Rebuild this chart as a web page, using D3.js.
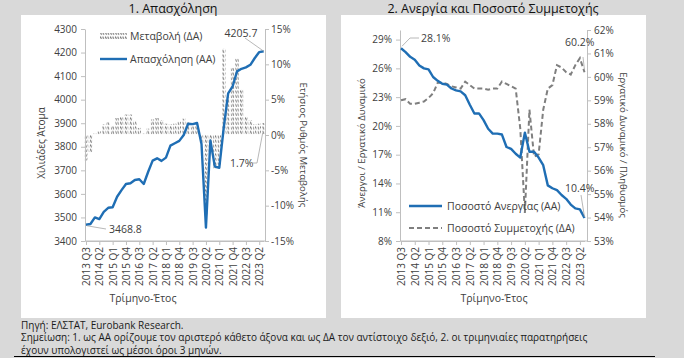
<!DOCTYPE html>
<html><head><meta charset="utf-8">
<script src="https://cdn.jsdelivr.net/npm/d3@7"></script>
<style>
body{margin:0;background:#d9d9d9;}
svg{display:block;font-family:"Open Sans",sans-serif;}
</style></head>
<body><svg id="c" width="684" height="358"></svg>
<script>
const quarters = ["2013 Q3","2013 Q4","2014 Q1","2014 Q2","2014 Q3","2014 Q4","2015 Q1","2015 Q2","2015 Q3","2015 Q4","2016 Q1","2016 Q2","2016 Q3","2016 Q4","2017 Q1","2017 Q2","2017 Q3","2017 Q4","2018 Q1","2018 Q2","2018 Q3","2018 Q4","2019 Q1","2019 Q2","2019 Q3","2019 Q4","2020 Q1","2020 Q2","2020 Q3","2020 Q4","2021 Q1","2021 Q2","2021 Q3","2021 Q4","2022 Q1","2022 Q2","2022 Q3","2022 Q4","2023 Q1","2023 Q2","2023 Q3"];
const xTickLabels = ["2013 Q3","2014 Q2","2015 Q1","2015 Q4","2016 Q3","2017 Q2","2018 Q1","2018 Q4","2019 Q3","2020 Q2","2021 Q1","2021 Q4","2022 Q3","2023 Q2"];
// Chart 1: employment (thousands, left axis) and annual % change (right axis)
const employment = [3468.8,3472,3500,3493,3524,3541,3543,3588,3616,3642,3645,3659,3662,3642,3694,3741,3751,3740,3754,3805,3815,3825,3850,3898,3896,3901,3812,3457,3827,3716,3711,3880,4027,4056,4120,4131,4137,4148,4177,4202,4205.7];
const employmentChange = [-3.6,-2.5,0.2,0.5,1.5,1.8,1.3,2.4,2.6,2.9,2.9,2.0,1.0,0.2,0.9,2.2,2.4,2.1,1.6,1.5,1.6,1.9,2.3,1.8,1.7,1.4,-1.2,-11.4,-2.7,-4.7,-4.2,12.2,5.3,9.5,10.8,6.5,2.6,2.1,1.5,1.6,1.7];
const empLeftTicks = [3400,3500,3600,3700,3800,3900,4000,4100,4200,4300];
const empRightTicks = [-15,-10,-5,0,5,10,15];
// Chart 2: unemployment rate (left axis) and participation rate (right axis)
const unemployment = [28.1,27.7,27.2,26.9,26.3,26.0,25.9,25.1,24.7,24.4,24.3,23.9,23.7,23.6,23.2,22.2,21.3,21.3,20.6,19.7,19.2,19.2,19.1,17.8,17.6,17.1,16.7,19.3,17.3,17.3,16.7,15.9,13.8,13.5,13.3,12.8,12.4,11.8,11.4,11.3,10.4];
const participation = [59.0,59.05,58.85,58.85,58.9,58.95,59.1,59.3,59.75,59.75,59.7,59.6,59.55,59.5,59.8,59.65,59.5,59.5,59.5,59.45,59.5,59.5,59.8,59.7,59.6,59.5,57.8,54.2,58.6,56.6,56.7,58.6,59.5,59.65,60.5,60.4,60.2,60.1,60.5,60.8,60.2];
const unempTicks = [8,11,14,17,20,23,26,29];
const partTicks = [53,54,55,56,57,58,59,60,61,62];

const svg = d3.select("#c");
const txt = "#404040", axc = "#bfbfbf", blue = "#1f6eb4", grey = "#7f7f7f";
const F = "Open Sans, sans-serif";

svg.append("rect").attr("width",684).attr("height",358).attr("fill","#d9d9d9");
svg.append("rect").attr("x",21).attr("y",15).attr("width",305).attr("height",303).attr("fill","#fff");
svg.append("rect").attr("x",341).attr("y",15).attr("width",305).attr("height",303).attr("fill","#fff");

const defs = svg.append("defs");
const pat = defs.append("pattern").attr("id","hatch").attr("patternUnits","userSpaceOnUse")
  .attr("width",2.5).attr("height",4.5);
pat.append("line").attr("x1",0.3).attr("y1",0.5).attr("x2",1.5).attr("y2",3.3)
  .attr("stroke","#6e6e6e").attr("stroke-width",1);

svg.append("text").attr("x",173).attr("y",13).attr("text-anchor","middle")
  .attr("font-size",12.5).attr("fill","#111").text("1. Απασχόληση");
svg.append("text").attr("x",493).attr("y",13).attr("text-anchor","middle")
  .attr("font-size",12.5).attr("fill","#111").text("2. Ανεργία και Ποσοστό Συμμετοχής");

function styleAxis(g){
  g.select(".domain").attr("stroke",axc);
  g.selectAll(".tick line").attr("stroke",axc);
  g.selectAll(".tick text").attr("fill",txt).attr("font-size",10).attr("font-family",F);
}
function xAxis(x, y0){
  const g = svg.append("g").attr("transform",`translate(0,${y0})`)
    .call(d3.axisBottom(x).tickValues(xTickLabels).tickSize(4).tickSizeOuter(0));
  styleAxis(g);
  g.selectAll(".tick text").attr("transform","rotate(-90)").attr("x",-6).attr("y",0)
    .attr("dy","0.35em").style("text-anchor","end");
  return g;
}

// ---------- Chart 1 ----------
const x1 = d3.scalePoint().domain(quarters).range([86,263.7]);
const y1L = d3.scaleLinear().domain([3400,4300]).range([241,29]);
const y1R = d3.scaleLinear().domain([-15,15]).range([241,29]);
const bw = 3.4;
svg.append("g").selectAll("rect").data(employmentChange).join("rect")
  .attr("x",(d,i)=>x1(quarters[i])-bw/2)
  .attr("y",d=>Math.min(y1R(d),y1R(0)))
  .attr("width",bw)
  .attr("height",d=>Math.abs(y1R(d)-y1R(0)))
  .attr("fill","url(#hatch)");
let g = svg.append("g").attr("transform","translate(85,0)")
  .call(d3.axisLeft(y1L).tickValues(empLeftTicks).tickSize(4).tickSizeOuter(0).tickPadding(4).tickFormat(d3.format("d")));
styleAxis(g);
g = svg.append("g").attr("transform","translate(265,0)")
  .call(d3.axisRight(y1R).tickValues(empRightTicks).tickSize(4).tickSizeOuter(0).tickPadding(2).tickFormat(d=>d+"%"));
styleAxis(g);
svg.append("line").attr("x1",85).attr("x2",265).attr("y1",241).attr("y2",241).attr("stroke",axc);
xAxis(x1,241);
svg.append("path").datum(employment)
  .attr("d",d3.line().x((d,i)=>x1(quarters[i])).y(d=>y1L(d)))
  .attr("fill","none").attr("stroke",blue).attr("stroke-width",2.4).attr("stroke-linejoin","round");

svg.append("text").attr("transform","translate(45,143) rotate(-90)").attr("text-anchor","middle")
  .attr("font-size",10).attr("fill",txt).text("Χιλιάδες Άτομα");
svg.append("text").attr("transform","translate(300,145) rotate(90)").attr("text-anchor","middle")
  .attr("font-size",9.6).attr("fill",txt).text("Ετήσιος Ρυθμός Μεταβολής");
svg.append("text").attr("x",143).attr("y",302).attr("text-anchor","middle")
  .attr("font-size",10.5).attr("fill",txt).text("Τρίμηνο-Έτος");

// legend 1
svg.append("rect").attr("x",100).attr("y",33).attr("width",27).attr("height",6).attr("fill","url(#hatch)");
svg.append("text").attr("x",130).attr("y",36).attr("dy","0.35em").attr("font-size",10.5).attr("fill",txt).text("Μεταβολή (ΔΑ)");
svg.append("line").attr("x1",100).attr("x2",127).attr("y1",59).attr("y2",59).attr("stroke",blue).attr("stroke-width",2.4);
svg.append("text").attr("x",130).attr("y",59).attr("dy","0.35em").attr("font-size",10.5).attr("fill",txt).text("Απασχόληση (ΑΑ)");

// annotations 1
const ann = (x,y,t,anchor)=>svg.append("text").attr("x",x).attr("y",y).attr("dy","0.35em")
  .attr("text-anchor",anchor||"start").attr("font-size",10.5).attr("fill",txt).text(t);
const lead = pts=>svg.append("polyline").attr("points",pts.map(p=>p.join(",")).join(" "))
  .attr("fill","none").attr("stroke","#a6a6a6").attr("stroke-width",0.8);
const last = quarters.length-1;
ann(241,33,employment[last].toFixed(1),"middle");
lead([[245,38],[x1(quarters[last]),y1L(employment[last])]]);
ann(109,229,employment[0].toFixed(1));
lead([[x1(quarters[0])+1,y1L(employment[0])+1],[106,229]]);
ann(230,163,employmentChange[last].toFixed(1)+"%");
lead([[252,163],[257,163],[x1(quarters[last])-1,y1R(employmentChange[last])+10]]);

// ---------- Chart 2 ----------
const x2 = d3.scalePoint().domain(quarters).range([401,584.5]);
const y2L = d3.scaleLinear().domain([8,30]).range([241,30]);
const y2R = d3.scaleLinear().domain([53,62]).range([241,30]);
g = svg.append("g").attr("transform","translate(400,0)")
  .call(d3.axisLeft(y2L).tickValues(unempTicks).tickSize(4).tickSizeOuter(0).tickPadding(4).tickFormat(d=>d+"%"));
styleAxis(g);
g = svg.append("g").attr("transform","translate(587,0)")
  .call(d3.axisRight(y2R).tickValues(partTicks).tickSize(4).tickSizeOuter(0).tickPadding(3).tickFormat(d=>d+"%"));
styleAxis(g);
svg.append("line").attr("x1",400).attr("x2",587).attr("y1",241).attr("y2",241).attr("stroke",axc);
xAxis(x2,241);
svg.append("path").datum(participation)
  .attr("d",d3.line().x((d,i)=>x2(quarters[i])).y(d=>y2R(d)))
  .attr("fill","none").attr("stroke",grey).attr("stroke-width",2).attr("stroke-dasharray","5,3");
svg.append("path").datum(unemployment)
  .attr("d",d3.line().x((d,i)=>x2(quarters[i])).y(d=>y2L(d)))
  .attr("fill","none").attr("stroke",blue).attr("stroke-width",2.4).attr("stroke-linejoin","round");

svg.append("text").attr("transform","translate(365,143) rotate(-90)").attr("text-anchor","middle")
  .attr("font-size",9.6).attr("fill",txt).text("Άνεργοι / Εργατικό Δυναμικό");
svg.append("text").attr("transform","translate(620,145) rotate(90)").attr("text-anchor","middle")
  .attr("font-size",9.6).attr("fill",txt).text("Εργατικό Δυναμικό / Πληθυσμός");
svg.append("text").attr("x",494).attr("y",302).attr("text-anchor","middle")
  .attr("font-size",10.5).attr("fill",txt).text("Τρίμηνο-Έτος");

// legend 2
svg.append("line").attr("x1",409).attr("x2",442).attr("y1",206).attr("y2",206).attr("stroke",blue).attr("stroke-width",2.4);
svg.append("text").attr("x",447).attr("y",206).attr("dy","0.35em").attr("font-size",10.5).attr("fill",txt).text("Ποσοστό Ανεργίας (ΑΑ)");
svg.append("line").attr("x1",409).attr("x2",442).attr("y1",228).attr("y2",228).attr("stroke",grey).attr("stroke-width",2).attr("stroke-dasharray","5,3");
svg.append("text").attr("x",447).attr("y",228).attr("dy","0.35em").attr("font-size",10.5).attr("fill",txt).text("Ποσοστό Συμμετοχής (ΔΑ)");

// annotations 2
ann(421,38,unemployment[0].toFixed(1)+"%");
lead([[x2(quarters[0])+1,y2L(unemployment[0])-2],[410,38],[419,38]]);
ann(565,42,participation[last].toFixed(1)+"%");
lead([[583,57],[x2(quarters[last]),y2R(participation[last])-2]]);
ann(565,188,unemployment[last].toFixed(1)+"%");
lead([[581,195],[x2(quarters[last]),y2L(unemployment[last])-1]]);

// footer
const foot = ["Πηγή: ΕΛΣΤΑΤ, Eurobank Research.",
  "Σημείωση: 1. ως ΑΑ ορίζουμε τον αριστερό κάθετο άξονα και ως ΔΑ τον αντίστοιχο δεξιό, 2. οι τριμηνιαίες παρατηρήσεις",
  "έχουν υπολογιστεί ως μέσοι όροι 3 μηνών."];
foot.forEach((t,i)=>svg.append("text").attr("x",21).attr("y",325+i*12.5).attr("dy","0.35em")
  .attr("font-size",10).attr("fill","#1a1a1a").text(t));
svg.append("line").attr("x1",14).attr("x2",655).attr("y1",356.5).attr("y2",356.5).attr("stroke","#000").attr("stroke-width",1);
</script></body></html>
